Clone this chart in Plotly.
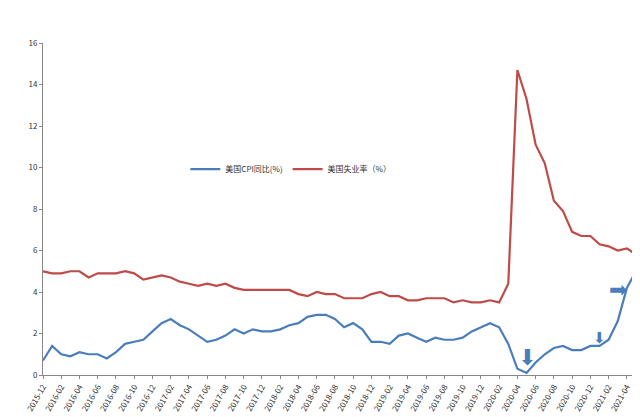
import plotly.graph_objects as go
import pandas as pd

months = [d.strftime("%Y-%m") for d in pd.date_range("2015-12-01", "2021-05-01", freq="MS")]
cpi = [0.7,1.4,1.0,0.9,1.1,1.0,1.0,0.8,1.1,1.5,1.6,1.7,2.1,2.5,2.7,2.4,2.2,1.9,1.6,1.7,1.9,2.2,2.0,2.2,
       2.1,2.1,2.2,2.4,2.5,2.8,2.9,2.9,2.7,2.3,2.5,2.2,1.6,1.6,1.5,1.9,2.0,1.8,1.6,1.8,1.7,1.7,1.8,2.1,
       2.3,2.5,2.3,1.5,0.3,0.1,0.6,1.0,1.3,1.4,1.2,1.2,1.4,1.4,1.7,2.6,4.2,5.0]
unemp = [5.0,
         4.9,4.9,5.0,5.0,4.7,4.9,4.9,4.9,5.0,4.9,4.6,4.7,
         4.8,4.7,4.5,4.4,4.3,4.4,4.3,4.4,4.2,4.1,4.1,4.1,
         4.1,4.1,4.1,3.9,3.8,4.0,3.9,3.9,3.7,3.7,3.7,3.9,
         4.0,3.8,3.8,3.6,3.6,3.7,3.7,3.7,3.5,3.6,3.5,3.5,
         3.6,3.5,4.4,14.7,13.3,11.1,10.2,8.4,7.9,6.9,6.7,6.7,
         6.3,6.2,6.0,6.1,5.8]
tick_labels = months[:-1:2]
arrows = [("2020-05", 0.85, "⬇", 22), ("2021-01", 1.8, "⬇", 15), ("2021-03", 4.1, "➡", 22)]

x = list(range(len(months)))
fig = go.Figure()
fig.add_trace(go.Scatter(x=x, y=cpi, mode="lines", name="美国CPI同比(%)",
                         line=dict(color="#4a7ebb", width=2.2)))
fig.add_trace(go.Scatter(x=x, y=unemp, mode="lines", name="美国失业率（%）",
                         line=dict(color="#be4b48", width=2.2)))
for m, yv, ch, sz in arrows:
    fig.add_annotation(x=months.index(m), y=yv, text=ch, showarrow=False,
                       font=dict(size=sz, color="#4a7ebb", family="DejaVu Sans"))
fig.update_layout(
    width=640, height=417, margin=dict(l=35, r=12, t=35, b=38),
    paper_bgcolor="white", plot_bgcolor="white",
    font=dict(family="Noto Sans CJK SC", size=9, color="#333"),
    legend=dict(orientation="h", x=0.24, y=0.62, xanchor="left", yanchor="middle",
                font=dict(size=8), bgcolor="rgba(0,0,0,0)"),
    xaxis=dict(range=[0, len(months) - 1], tickmode="array",
               tickvals=x[:-1:2], ticktext=tick_labels, tickangle=-60,
               showgrid=False, showline=True, linecolor="#888", ticks="outside",
               ticklen=3, tickcolor="#888", zeroline=False, tickfont=dict(size=8)),
    yaxis=dict(range=[0, 16], dtick=2, showgrid=False, showline=True, linecolor="#888",
               ticks="outside", ticklen=3, tickcolor="#888", zeroline=False,
               tickfont=dict(size=8)),
)
fig.write_html("out.html")
